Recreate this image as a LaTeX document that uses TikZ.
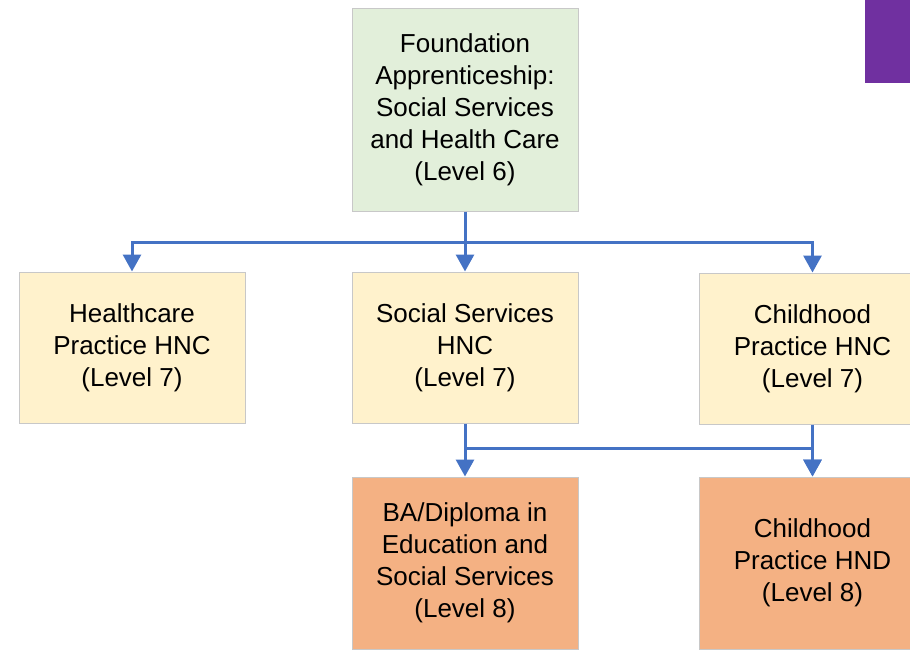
\documentclass[tikz,border=0pt]{standalone}
\usepackage{fontspec}
\setmainfont{Liberation Sans}
\usepackage{tikz}
\usetikzlibrary{arrows.meta}
\usepackage{xcolor}
\definecolor{ColGreen}{RGB}{226,239,218}
\definecolor{ColYellow}{RGB}{255,242,204}
\definecolor{ColOrange}{RGB}{244,177,131}
\definecolor{ColBorder}{RGB}{200,200,200}
\definecolor{ColLine}{RGB}{68,114,196}
\definecolor{ColPurple}{RGB}{112,48,160}
\tikzstyle{BoxStep}=[rectangle,draw=ColBorder,line width=1pt,minimum width=226pt,
align=center,font=\fontsize{26}{32}\selectfont,inner sep=0pt]
\tikzstyle{BoxFound}=[BoxStep,fill=ColGreen,minimum height=203pt]
\tikzstyle{BoxHNC}=[BoxStep,fill=ColYellow,minimum height=151pt]
\tikzstyle{BoxHND}=[BoxStep,fill=ColOrange,minimum height=172pt]
\tikzstyle{EdgeArrow}=[ColLine,line width=3pt,-{Triangle[width=18pt,length=17pt]}]
\tikzstyle{EdgeLine}=[ColLine,line width=3pt]

\begin{document}
\begin{tikzpicture}[x=1pt,y=-1pt]
        \useasboundingbox (0,0) rectangle (910,649);
        \clip (0,0) rectangle (910,649);
        \fill[ColPurple] (865,0) rectangle (910,83);
        \node[BoxFound](found)at(465,109.5){Foundation\\Apprenticeship:\\Social Services\\and Health Care\\(Level 6)};
        \node[BoxHNC](health)at(132,347.5){Healthcare\\Practice HNC\\(Level 7)};
        \node[BoxHNC](social)at(465,347.5){Social Services\\HNC\\(Level 7)};
        \node[BoxHNC](child)at(812.5,348.5){Childhood\\Practice HNC\\(Level 7)};
        \node[BoxHND](ba)at(465,563){BA/Diploma in\\Education and\\Social Services\\(Level 8)};
        \node[BoxHND](hnd)at(812.5,563){Childhood\\Practice HND\\(Level 8)};
        \coordinate(split)at(465,242);
        \coordinate(merge)at(465,448);
        \draw[EdgeLine](found.south)--(split);
        \draw[EdgeArrow](split)-|(health.north);
        \draw[EdgeArrow](split)--(social.north);
        \draw[EdgeArrow](split)-|(child.north);
        \draw[EdgeArrow](social.south)--(ba.north);
        \draw[EdgeArrow](merge)-|(hnd.north);
        \draw[EdgeArrow](child.south)--(hnd.north);
    \end{tikzpicture}
\end{document}
